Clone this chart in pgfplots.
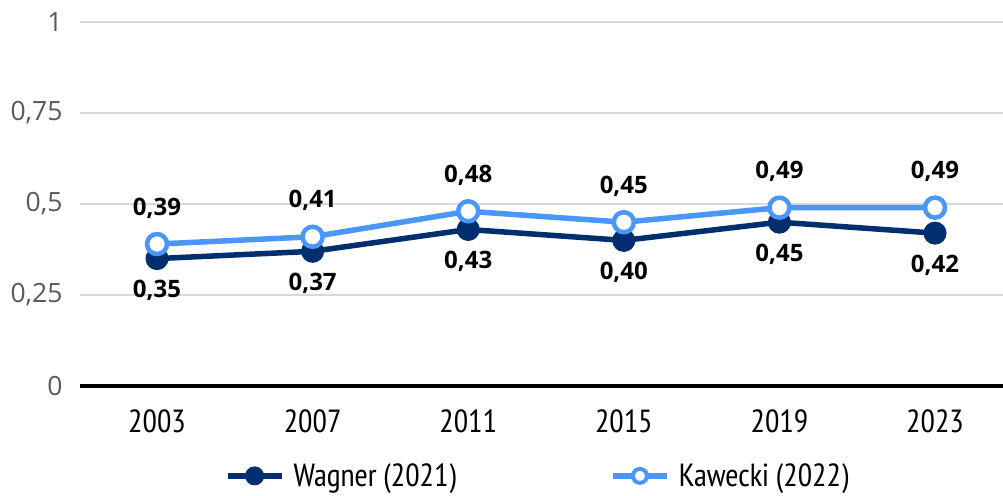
\documentclass[border=0pt]{standalone}
\usepackage{pgfplots}
\pgfplotsset{compat=1.18}
\usepackage{fontspec}
\IfFontExistsTF{PT Sans Narrow}{\setmainfont{PT Sans Narrow}}{\setmainfont{PT Sans}}
\newfontfamily\tickfont{Open Sans}
\newfontfamily\labfont{Open Sans}
\definecolor{navy}{RGB}{0,46,110}
\definecolor{lblue}{RGB}{74,150,250}
\definecolor{gridgray}{RGB}{217,217,217}
\definecolor{tickgray}{RGB}{89,89,89}
\begin{document}
\begin{tikzpicture}
\path[use as bounding box] (-80pt,-109pt) rectangle (923pt,386pt);
\begin{axis}[
  at={(0pt,0pt)}, anchor=south west,
  scale only axis, width=923pt, height=364pt,
  xmin=-0.495, xmax=5.437, ymin=0, ymax=1,
  xtick={0,1,2,3,4,5},
  xticklabels={2003,2007,2011,2015,2019,2023},
  ytick={0,0.25,0.5,0.75,1},
  major tick length=0pt,
  axis x line*=bottom, axis y line*=left,
  x axis line style={-, black, line width=3.5pt},
  y axis line style={draw=none},
  ymajorgrids, grid style={gridgray, line width=1.6pt},
  /pgf/number format/assume math mode=true,
  /pgf/number format/use comma,
  yticklabel style={font=\tickfont\fontsize{26.5}{30}\selectfont, text=tickgray, xshift=-14pt},
  xticklabel style={font=\fontsize{32}{36}\selectfont, text=black, anchor=base, yshift=-46pt},
  legend columns=2,
  legend style={at={(0.4957,-0.247)}, anchor=center, draw=none, fill=none,
    font=\fontsize{32}{34}\selectfont,
    /tikz/column 1/.style={column sep=7pt},
    /tikz/column 2/.style={column sep=152pt},
    /tikz/column 3/.style={column sep=7pt}},
  legend image code/.code={\draw[#1, mark repeat=2, mark phase=2] plot coordinates {(0pt,0pt) (27pt,0pt) (54pt,0pt)};},
  clip=false,
]
\addplot[forget plot, navy, line width=5.5pt, mark=*, mark size=11pt, mark options={line width=1pt, fill=navy, draw=navy},
  nodes near coords, point meta=y,
  nodes near coords style={font=\labfont\bfseries\fontsize{24}{28}\selectfont, text=black, anchor=center, yshift=-32pt,
    /pgf/number format/.cd, fixed, fixed zerofill, precision=2, use comma, assume math mode=true}]
  coordinates {(0,0.35) (1,0.37) (2,0.43) (3,0.40) (4,0.45) (5,0.42)};
\addplot[forget plot, lblue, line width=5.5pt, mark=*, mark size=10pt, mark options={line width=4.5pt, fill=white, draw=lblue},
  nodes near coords, point meta=y,
  nodes near coords style={font=\labfont\bfseries\fontsize{24}{28}\selectfont, text=black, anchor=center, yshift=36pt,
    /pgf/number format/.cd, fixed, fixed zerofill, precision=2, use comma, assume math mode=true}]
  coordinates {(0,0.39) (1,0.41) (2,0.48) (3,0.45) (4,0.49) (5,0.49)};
\addlegendimage{navy, line width=6pt, mark=*, mark size=9pt, mark options={line width=1pt, fill=navy, draw=navy}}
\addlegendentry{Wagner (2021)}
\addlegendimage{lblue, line width=6pt, mark=*, mark size=7pt, mark options={line width=4pt, fill=white, draw=lblue}}
\addlegendentry{Kawecki (2022)}
\end{axis}
\end{tikzpicture}
\end{document}
